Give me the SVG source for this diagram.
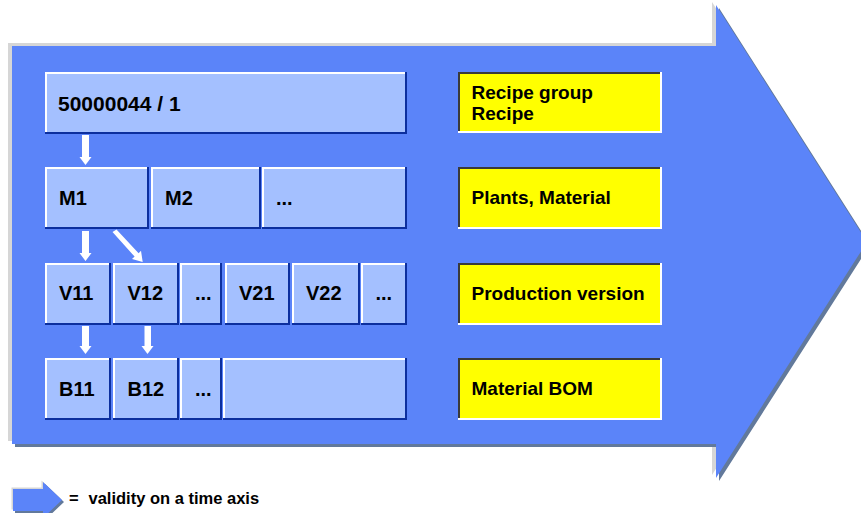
<svg xmlns="http://www.w3.org/2000/svg" width="861" height="513" viewBox="0 0 861 513">
  <defs>
    <style>
      .hl { fill: #d6d6d6; }
      .sh { fill: #62799b; }
      .bg { fill: #5b84f9; }
      .edge-lo { fill: #0c2f9e; }
      .edge-hi { fill: #ffffff; }
      .cell { fill: #a4c0ff; }
      .ybox-lo { fill: #ffffff; }
      .ybox-hi { fill: #3a3a3a; }
      .ybox { fill: #ffff00; }
      text { font-family: "Liberation Sans", Arial, sans-serif; font-weight: bold; fill: #000000; }
      .t { font-size: 20px; }
      .ty { font-size: 19px; }
      .tl { font-size: 16.5px; }
      .arrow { fill: #ffffff; }
    </style>
    <polygon id="big" points="12,46 716,46 716,5 867,242 716,478 716,444 12,444"/>
    <polygon id="small" points="13,489 43,489 43,482 62,500 43,518 43,511 13,511"/>
  </defs>

  <!-- time-axis arrow: highlight, shadow, body -->
  <g id="timeline">
    <use href="#big" class="hl" transform="translate(-4,-3)"/>
    <use href="#big" class="sh" transform="translate(3,3)"/>
    <use href="#big" class="bg"/>
  </g>

  <!-- recipe -->
  <g id="recipe">
    <rect class="edge-lo" x="45" y="72" width="362" height="62"/>
    <rect class="edge-hi" x="45" y="72" width="360" height="60"/>
    <rect class="cell" x="47" y="74" width="358" height="58"/>
    <text class="t" x="58" y="111" style="font-size:21px">50000044 / 1</text>
  </g>

  <!-- materials -->
  <g id="m1">
    <rect class="edge-lo" x="45" y="167" width="104" height="62"/>
    <rect class="edge-hi" x="45" y="167" width="102" height="60"/>
    <rect class="cell" x="47" y="169" width="100" height="58"/>
    <text class="t" x="59" y="205">M1</text>
  </g>
  <g id="m2">
    <rect class="edge-lo" x="151" y="167" width="110" height="62"/>
    <rect class="edge-hi" x="151" y="167" width="108" height="60"/>
    <rect class="cell" x="153" y="169" width="106" height="58"/>
    <text class="t" x="165" y="205">M2</text>
  </g>
  <g id="m-more">
    <rect class="edge-lo" x="262" y="167" width="145" height="62"/>
    <rect class="edge-hi" x="262" y="167" width="143" height="60"/>
    <rect class="cell" x="264" y="169" width="141" height="58"/>
    <text class="t" x="276" y="205">...</text>
  </g>

  <!-- production versions -->
  <g id="v11">
    <rect class="edge-lo" x="45" y="263" width="66" height="62"/>
    <rect class="edge-hi" x="45" y="263" width="64" height="60"/>
    <rect class="cell" x="47" y="265" width="62" height="58"/>
    <text class="t" x="59" y="300">V11</text>
  </g>
  <g id="v12">
    <rect class="edge-lo" x="113" y="263" width="66" height="62"/>
    <rect class="edge-hi" x="113" y="263" width="64" height="60"/>
    <rect class="cell" x="115" y="265" width="62" height="58"/>
    <text class="t" x="127.5" y="300">V12</text>
  </g>
  <g id="v1-more">
    <rect class="edge-lo" x="180" y="263" width="42" height="62"/>
    <rect class="edge-hi" x="180" y="263" width="40" height="60"/>
    <rect class="cell" x="182" y="265" width="38" height="58"/>
    <text class="t" x="195" y="300">...</text>
  </g>
  <g id="v21">
    <rect class="edge-lo" x="225" y="263" width="65" height="62"/>
    <rect class="edge-hi" x="225" y="263" width="63" height="60"/>
    <rect class="cell" x="227" y="265" width="61" height="58"/>
    <text class="t" x="239" y="300">V21</text>
  </g>
  <g id="v22">
    <rect class="edge-lo" x="292" y="263" width="68" height="62"/>
    <rect class="edge-hi" x="292" y="263" width="66" height="60"/>
    <rect class="cell" x="294" y="265" width="64" height="58"/>
    <text class="t" x="306" y="300">V22</text>
  </g>
  <g id="v2-more">
    <rect class="edge-lo" x="361" y="263" width="46" height="62"/>
    <rect class="edge-hi" x="361" y="263" width="44" height="60"/>
    <rect class="cell" x="363" y="265" width="42" height="58"/>
    <text class="t" x="375.5" y="300">...</text>
  </g>

  <!-- BOMs -->
  <g id="b11">
    <rect class="edge-lo" x="45" y="358" width="66" height="62"/>
    <rect class="edge-hi" x="45" y="358" width="64" height="60"/>
    <rect class="cell" x="47" y="360" width="62" height="58"/>
    <text class="t" x="59" y="396">B11</text>
  </g>
  <g id="b12">
    <rect class="edge-lo" x="113" y="358" width="66" height="62"/>
    <rect class="edge-hi" x="113" y="358" width="64" height="60"/>
    <rect class="cell" x="115" y="360" width="62" height="58"/>
    <text class="t" x="127.5" y="396">B12</text>
  </g>
  <g id="b-more">
    <rect class="edge-lo" x="180" y="358" width="42" height="62"/>
    <rect class="edge-hi" x="180" y="358" width="40" height="60"/>
    <rect class="cell" x="182" y="360" width="38" height="58"/>
    <text class="t" x="195" y="396">...</text>
  </g>
  <g id="b-rest">
    <rect class="edge-lo" x="223" y="358" width="184" height="62"/>
    <rect class="edge-hi" x="223" y="358" width="182" height="60"/>
    <rect class="cell" x="225" y="360" width="180" height="58"/>
  </g>

  <!-- level labels -->
  <g id="label-recipe">
    <rect class="ybox-lo" x="458" y="72" width="204" height="61"/>
    <rect class="ybox-hi" x="458" y="72" width="202" height="59"/>
    <rect class="ybox" x="460" y="74" width="200" height="57"/>
    <text class="ty" x="471.5" y="99">Recipe group</text>
    <text class="ty" x="471.5" y="120">Recipe</text>
  </g>
  <g id="label-material">
    <rect class="ybox-lo" x="458" y="167" width="204" height="62"/>
    <rect class="ybox-hi" x="458" y="167" width="202" height="60"/>
    <rect class="ybox" x="460" y="169" width="200" height="58"/>
    <text class="ty" x="471.5" y="204">Plants, Material</text>
  </g>
  <g id="label-version">
    <rect class="ybox-lo" x="458" y="263" width="204" height="62"/>
    <rect class="ybox-hi" x="458" y="263" width="202" height="60"/>
    <rect class="ybox" x="460" y="265" width="200" height="58"/>
    <text class="ty" x="471.5" y="300">Production version</text>
  </g>
  <g id="label-bom">
    <rect class="ybox-lo" x="458" y="358" width="204" height="62"/>
    <rect class="ybox-hi" x="458" y="358" width="202" height="60"/>
    <rect class="ybox" x="460" y="360" width="200" height="58"/>
    <text class="ty" x="471.5" y="395">Material BOM</text>
  </g>

  <!-- connectors -->
  <g id="connectors">
    <polygon class="arrow" points="82,135 89,135 89,157 91.5,157 85.5,165 79.5,157 82,157"/>
    <polygon class="arrow" points="82,231 89,231 89,253 91.5,253 85.5,261 79.5,253 82,253"/>
    <polygon class="arrow" points="112.5,232 116.5,229.5 138.6,253.3 141,250.8 142.7,262 132,259 134.6,256.6"/>
    <polygon class="arrow" points="82,326 89,326 89,346 91.5,346 85.5,354 79.5,346 82,346"/>
    <polygon class="arrow" points="144.5,326 151,326 151,346 153.5,346 147.5,354 141.5,346 144.5,346"/>
  </g>

  <!-- legend -->
  <g id="legend">
    <use href="#small" class="hl" transform="translate(-1.5,-1.5)"/>
    <use href="#small" class="sh" transform="translate(2,2)"/>
    <use href="#small" class="bg"/>
    <text class="tl" x="69" y="504">=<tspan x="88.5">validity on a time axis</tspan></text>
  </g>
</svg>
